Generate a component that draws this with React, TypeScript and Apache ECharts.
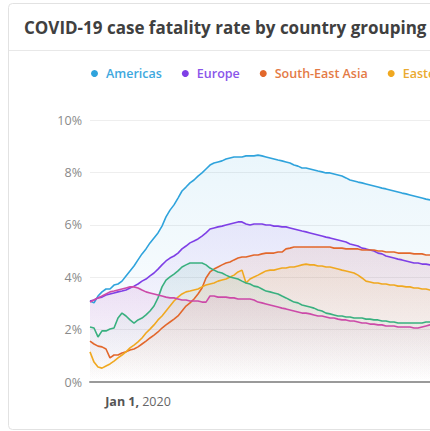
import React, { useEffect, useRef } from "react";
import * as echarts from "echarts";

const TITLE = "COVID-19 case fatality rate by country grouping";
const SERIES_NAMES = [
  "Americas",
  "Europe",
  "South-East Asia",
  "Eastern Mediterranean",
  "Western Pacific",
  "Africa",
];
const SERIES_COLORS = ["#2fa3dc", "#7e3fe6", "#e2672b", "#f0a820", "#39b07f", "#cc4aa8"];
const LEGEND_TEXT_COLORS = ["#3ea8de", "#8a55ea", "#e47a45", "#eaaa30", "#48b88a", "#d25eb2"];

// x categories: one point every 5 days
const START_DATE = Date.UTC(2019, 10, 2);
const STEP_DAYS = 5;
const POINT_COUNT = 88;
const LABELLED_DATES = ["2020-01-01"];
const MONTHS = ["Jan", "Feb", "Mar", "Apr", "May", "Jun", "Jul", "Aug", "Sep", "Oct", "Nov", "Dec"];

const Y_TICKS = [0, 2, 4, 6, 8, 10];

const americas = [
  3.09, 3.02, 3.28, 3.44, 3.55, 3.55, 3.70, 3.74, 3.85, 4.05,
  4.24, 4.43, 4.66, 4.89, 5.08, 5.31, 5.50, 5.69, 5.95, 6.30,
  6.56, 6.76, 7.02, 7.29, 7.44, 7.60, 7.71, 7.86, 7.98, 8.13,
  8.28, 8.36, 8.40, 8.44, 8.51, 8.55, 8.59, 8.59, 8.59, 8.63,
  8.63, 8.63, 8.66, 8.63, 8.59, 8.55, 8.51, 8.47, 8.44, 8.40,
  8.36, 8.28, 8.24, 8.17, 8.17, 8.13, 8.09, 8.05, 8.02, 7.98,
  7.98, 7.94, 7.90, 7.86, 7.79, 7.71, 7.67, 7.63, 7.60, 7.56,
  7.52, 7.48, 7.44, 7.40, 7.37, 7.33, 7.29, 7.25, 7.21, 7.18,
  7.14, 7.10, 7.06, 7.02, 6.98, 6.95, 6.91, 6.87,
];
const europe = [
  3.09, 3.13, 3.21, 3.24, 3.32, 3.36, 3.40, 3.44, 3.47, 3.51,
  3.59, 3.66, 3.74, 3.85, 3.93, 4.05, 4.16, 4.31, 4.47, 4.62,
  4.73, 4.81, 4.92, 5.08, 5.19, 5.31, 5.38, 5.46, 5.57, 5.69,
  5.84, 5.88, 5.92, 5.95, 5.99, 6.03, 6.07, 6.11, 6.11, 6.03,
  5.99, 6.03, 6.03, 6.03, 5.99, 5.99, 5.95, 5.95, 5.92, 5.92,
  5.88, 5.84, 5.80, 5.76, 5.73, 5.69, 5.65, 5.61, 5.57, 5.53,
  5.50, 5.46, 5.42, 5.38, 5.34, 5.27, 5.23, 5.19, 5.11, 5.08,
  5.04, 5.00, 4.92, 4.89, 4.81, 4.77, 4.73, 4.69, 4.66, 4.62,
  4.58, 4.54, 4.54, 4.50, 4.50, 4.47, 4.43, 4.39,
];
const southEastAsia = [
  1.56, 1.45, 1.37, 1.34, 1.26, 0.92, 1.03, 1.03, 1.11, 1.15,
  1.22, 1.26, 1.34, 1.45, 1.56, 1.68, 1.79, 1.91, 2.06, 2.18,
  2.29, 2.40, 2.52, 2.71, 2.90, 3.02, 3.17, 3.36, 3.59, 3.97,
  4.20, 4.31, 4.39, 4.47, 4.54, 4.58, 4.66, 4.73, 4.77, 4.77,
  4.81, 4.85, 4.85, 4.89, 4.92, 4.92, 4.92, 4.96, 4.96, 5.08,
  5.11, 5.15, 5.15, 5.15, 5.15, 5.15, 5.15, 5.15, 5.15, 5.15,
  5.15, 5.11, 5.11, 5.11, 5.08, 5.08, 5.08, 5.08, 5.04, 5.04,
  5.04, 5.04, 5.00, 5.00, 4.96, 4.96, 4.96, 4.92, 4.92, 4.92,
  4.92, 4.89, 4.89, 4.89, 4.85, 4.85, 4.85, 4.81,
];
const easternMediterranean = [
  1.15, 0.76, 0.57, 0.53, 0.61, 0.69, 0.80, 0.92, 1.03, 1.15,
  1.30, 1.41, 1.53, 1.68, 1.87, 2.02, 2.18, 2.37, 2.52, 2.71,
  2.90, 3.09, 3.24, 3.36, 3.44, 3.47, 3.51, 3.55, 3.63, 3.70,
  3.74, 3.78, 3.85, 3.89, 3.93, 4.01, 4.08, 4.20, 4.27, 3.78,
  3.93, 4.01, 4.08, 4.16, 4.24, 4.27, 4.27, 4.31, 4.35, 4.35,
  4.39, 4.39, 4.43, 4.47, 4.50, 4.47, 4.47, 4.43, 4.43, 4.39,
  4.39, 4.35, 4.31, 4.27, 4.24, 4.20, 4.16, 4.08, 3.97, 3.85,
  3.82, 3.78, 3.78, 3.74, 3.74, 3.70, 3.70, 3.66, 3.66, 3.63,
  3.63, 3.59, 3.59, 3.55, 3.55, 3.51, 3.51, 3.47,
];
const westernPacific = [
  2.10, 2.06, 1.72, 1.95, 1.95, 2.02, 2.06, 2.44, 2.63, 2.52,
  2.37, 2.25, 2.37, 2.44, 2.56, 2.71, 2.90, 3.21, 3.63, 3.89,
  4.01, 4.12, 4.24, 4.39, 4.47, 4.54, 4.54, 4.54, 4.54, 4.47,
  4.35, 4.27, 4.20, 4.16, 4.08, 4.01, 3.97, 3.93, 3.85, 3.78,
  3.74, 3.66, 3.63, 3.55, 3.47, 3.44, 3.40, 3.36, 3.28, 3.21,
  3.13, 3.05, 3.02, 2.94, 2.90, 2.86, 2.82, 2.75, 2.71, 2.63,
  2.60, 2.56, 2.52, 2.52, 2.48, 2.48, 2.44, 2.44, 2.44, 2.40,
  2.40, 2.37, 2.37, 2.33, 2.33, 2.29, 2.29, 2.25, 2.25, 2.25,
  2.25, 2.25, 2.25, 2.25, 2.29, 2.29, 2.29, 2.29,
];
const africa = [
  3.05, 3.13, 3.21, 3.28, 3.36, 3.44, 3.47, 3.51, 3.55, 3.59,
  3.63, 3.63, 3.59, 3.51, 3.44, 3.40, 3.36, 3.32, 3.28, 3.24,
  3.21, 3.21, 3.17, 3.13, 3.13, 3.09, 3.09, 3.09, 3.05, 3.05,
  3.28, 3.28, 3.24, 3.24, 3.24, 3.21, 3.21, 3.17, 3.17, 3.17,
  3.17, 3.13, 3.05, 3.02, 2.98, 2.94, 2.90, 2.86, 2.82, 2.79,
  2.75, 2.71, 2.67, 2.63, 2.63, 2.60, 2.56, 2.52, 2.52, 2.48,
  2.44, 2.44, 2.40, 2.37, 2.37, 2.33, 2.33, 2.29, 2.25, 2.25,
  2.21, 2.21, 2.18, 2.18, 2.14, 2.14, 2.14, 2.10, 2.10, 2.10,
  2.10, 2.06, 2.06, 2.10, 2.14, 2.18, 2.18, 2.18,
];
const SERIES_VALUES = [americas, europe, southEastAsia, easternMediterranean, westernPacific, africa];

function pad(n: number) {
  return n < 10 ? "0" + n : String(n);
}
function buildDates(): string[] {
  const out: string[] = [];
  for (let i = 0; i < POINT_COUNT; i++) {
    const d = new Date(START_DATE + i * STEP_DAYS * 86400000);
    out.push(`${d.getUTCFullYear()}-${pad(d.getUTCMonth() + 1)}-${pad(d.getUTCDate())}`);
  }
  return out;
}

function hexToRgba(hex: string, a: number) {
  const n = parseInt(hex.slice(1), 16);
  return `rgba(${(n >> 16) & 255},${(n >> 8) & 255},${n & 255},${a})`;
}

const FONT = "'Open Sans', 'Noto Sans', sans-serif";
const CHART_W = 620;
const CHART_H = 431;

export default function App() {
  const ref = useRef<HTMLDivElement>(null);
  useEffect(() => {
    if (!ref.current) return;
    const chart = echarts.init(ref.current, null, { renderer: "svg" });
    const dates = buildDates();
    const option: any = {
      animation: false,
      textStyle: { fontFamily: FONT },
      graphic: [
        {
          type: "rect",
          shape: { x: 8.5, y: 3.5, width: 600, height: 426, r: 4 },
          style: { fill: "none", stroke: "#e2e2e2", lineWidth: 1 },
          silent: true,
        },
        {
          type: "line",
          shape: { x1: 9, y1: 50.5, x2: 609, y2: 50.5 },
          style: { stroke: "#e8e8e8", lineWidth: 1 },
          silent: true,
        },
        {
          type: "text",
          x: 24,
          y: 27.5,
          style: {
            text: TITLE,
            font: `bold 17px ${FONT}`,
            fill: "#404040",
            verticalAlign: "middle",
            align: "left",
          },
        },
      ],
      legend: {
        left: 91,
        top: 67,
        padding: 0,
        width: 1000,
        icon: "circle",
        itemWidth: 7,
        itemHeight: 7,
        itemGap: 20,
        selectedMode: false,
        textStyle: { fontSize: 12.5, fontWeight: 600, fontFamily: FONT, padding: [0, 0, 0, 3] },
        data: SERIES_NAMES.map((name, i) => ({
          name,
          textStyle: { color: LEGEND_TEXT_COLORS[i] },
        })),
      },
      grid: { left: 90, right: CHART_W - 438, top: 120, bottom: CHART_H - 382, containLabel: false },
      xAxis: {
        type: "category",
        boundaryGap: false,
        data: dates,
        axisLine: { show: true, lineStyle: { color: "#9a9a9a", width: 2 } },
        axisTick: { show: false },
        splitLine: { show: false },
        axisLabel: {
          interval: (_i: number, v: string) => LABELLED_DATES.includes(v),
          showMinLabel: false,
          showMaxLabel: false,
          margin: 13,
          formatter: (v: string) => {
            const d = new Date(v + "T00:00:00Z");
            return `{b|${MONTHS[d.getUTCMonth()]} ${d.getUTCDate()},} {n|${d.getUTCFullYear()}}`;
          },
          rich: {
            b: { fontSize: 12.5, fontWeight: "bold", color: "#555", fontFamily: FONT },
            n: { fontSize: 12.5, color: "#666", fontFamily: FONT },
          },
        },
      },
      yAxis: {
        type: "value",
        min: Y_TICKS[0],
        max: Y_TICKS[Y_TICKS.length - 1],
        interval: 2,
        axisLine: { show: false },
        axisTick: { show: false },
        axisLabel: { formatter: "{value}%", color: "#8a8a8a", fontSize: 12.5, margin: 8, fontFamily: FONT },
        splitLine: { lineStyle: { color: "#eeeeee", width: 1 } },
      },
      series: SERIES_NAMES.map((name, i) => ({
        name,
        type: "line",
        data: SERIES_VALUES[i],
        showSymbol: false,
        symbol: "none",
        lineStyle: { color: SERIES_COLORS[i], width: 1.6 },
        itemStyle: { color: SERIES_COLORS[i] },
        areaStyle: {
          color: new echarts.graphic.LinearGradient(0, 0, 0, 1, [
            { offset: 0, color: hexToRgba(SERIES_COLORS[i], 0.14) },
            { offset: 1, color: hexToRgba(SERIES_COLORS[i], 0) },
          ]),
        },
      })),
    };
    chart.setOption(option);
    return () => chart.dispose();
  }, []);
  return (
    <div style={{ position: "fixed", left: 0, top: 0, width: 430, height: 431, overflow: "hidden", background: "#fff" }}>
      <div ref={ref} style={{ width: CHART_W, height: CHART_H }} />
    </div>
  );
}
